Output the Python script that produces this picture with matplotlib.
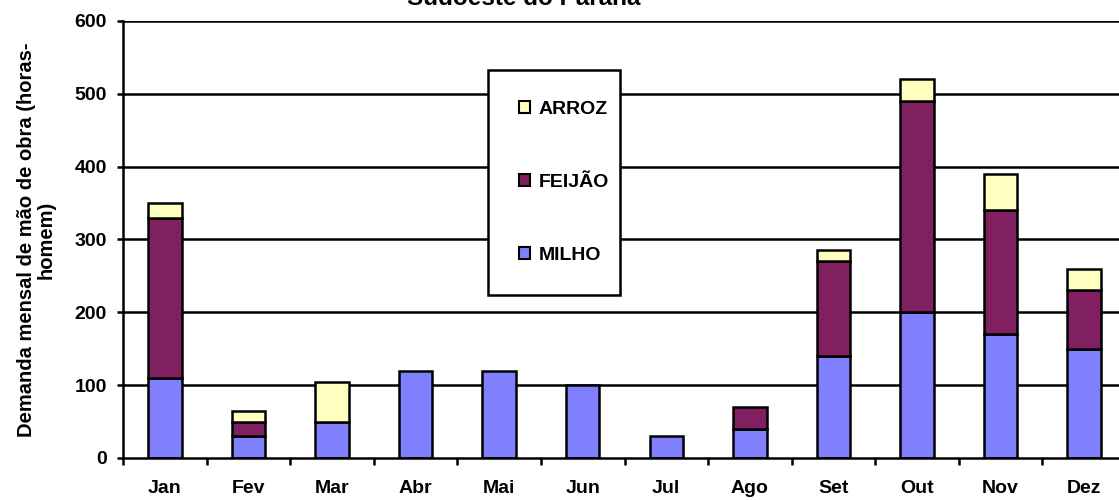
import matplotlib
matplotlib.use("Agg")
import matplotlib.pyplot as plt
from matplotlib.patches import Patch
import numpy as np

months = ["Jan", "Fev", "Mar", "Abr", "Mai", "Jun", "Jul", "Ago", "Set", "Out", "Nov", "Dez"]
milho = [110, 30, 50, 120, 120, 100, 30, 40, 140, 200, 170, 150]
feijao = [220, 20, 0, 0, 0, 0, 0, 30, 130, 290, 170, 80]
arroz = [20, 15, 55, 0, 0, 0, 0, 0, 15, 30, 50, 30]
yticks = [0, 100, 200, 300, 400, 500, 600]

c_milho = "#8080FF"
c_feijao = "#802060"
c_arroz = "#FFFFC0"

plt.rcParams['font.family'] = ['Liberation Sans', 'DejaVu Sans']
plt.rcParams['font.weight'] = 'bold'

FS = 14

W, H = 1119, 500
fig = plt.figure(figsize=(W / 100, H / 100), dpi=100)
left, right, bottom, top = 123, 1126, 458, 21
ax = fig.add_axes([left / W, 1 - bottom / H, (right - left) / W, (bottom - top) / H])

x = np.arange(len(months))
bw = 0.4
ek = dict(edgecolor="black", linewidth=1.8, zorder=3)
ax.bar(x, milho, bw, color=c_milho, **ek)
bot2 = np.array(milho)
m2 = np.array(feijao) > 0
ax.bar(x[m2], np.array(feijao)[m2], bw, bottom=bot2[m2], color=c_feijao, **ek)
bot3 = bot2 + np.array(feijao)
m3 = np.array(arroz) > 0
ax.bar(x[m3], np.array(arroz)[m3], bw, bottom=bot3[m3], color=c_arroz, **ek)

ax.set_xlim(-0.5, len(months) - 0.5)
ax.set_ylim(0, 600)
ax.set_yticks(yticks)
ax.set_yticklabels([str(v) for v in yticks], fontsize=FS, fontweight='bold')
ax.set_xticks(x)
ax.set_xticklabels(months, fontsize=FS, fontweight='bold')
ax.tick_params(axis='x', length=0, pad=16)
ax.set_xticks(np.arange(-0.5, len(months), 1.0), minor=True)
ax.tick_params(axis='x', which='minor', length=5, width=1.8, direction='out')
ax.tick_params(axis='y', length=4.5, width=1.8, direction='out', pad=7)

for v in yticks[1:]:
    ax.axhline(v, color="black", linewidth=1.8, zorder=1)

for s in ["top", "right"]:
    ax.spines[s].set_visible(False)
for s in ["left", "bottom"]:
    ax.spines[s].set_linewidth(1.8)
    ax.spines[s].set_zorder(4)

ax.set_ylabel("Demanda mensal de mão de obra (horas-\nhomem)", fontsize=14.5,
              fontweight='bold', labelpad=14, linespacing=1.0)

handles = [Patch(facecolor=c_arroz, edgecolor="black", linewidth=1.5, label="ARROZ"),
           Patch(facecolor=c_feijao, edgecolor="black", linewidth=1.5, label="FEIJÃO"),
           Patch(facecolor=c_milho, edgecolor="black", linewidth=1.5, label="MILHO")]
leg = ax.legend(handles=handles, loc="upper left", mode="expand",
                bbox_to_anchor=(488 / W, 1 - 298 / H, 132 / W, 228 / H),
                bbox_transform=fig.transFigure,
                handlelength=0.55, handleheight=0.55, handletextpad=0.45,
                labelspacing=2.88, borderpad=1.6, borderaxespad=0, fancybox=False,
                framealpha=1, edgecolor="black", prop={'weight': 'bold', 'size': FS})
leg.get_frame().set_linewidth(1.8)
leg.set_zorder(5)

fig.text(524 / W, 1 - 5 / H, "Sudoeste do Paraná", ha="center", va="baseline",
         fontsize=17.5, fontweight='bold')

fig.savefig("out.png", dpi=100)
